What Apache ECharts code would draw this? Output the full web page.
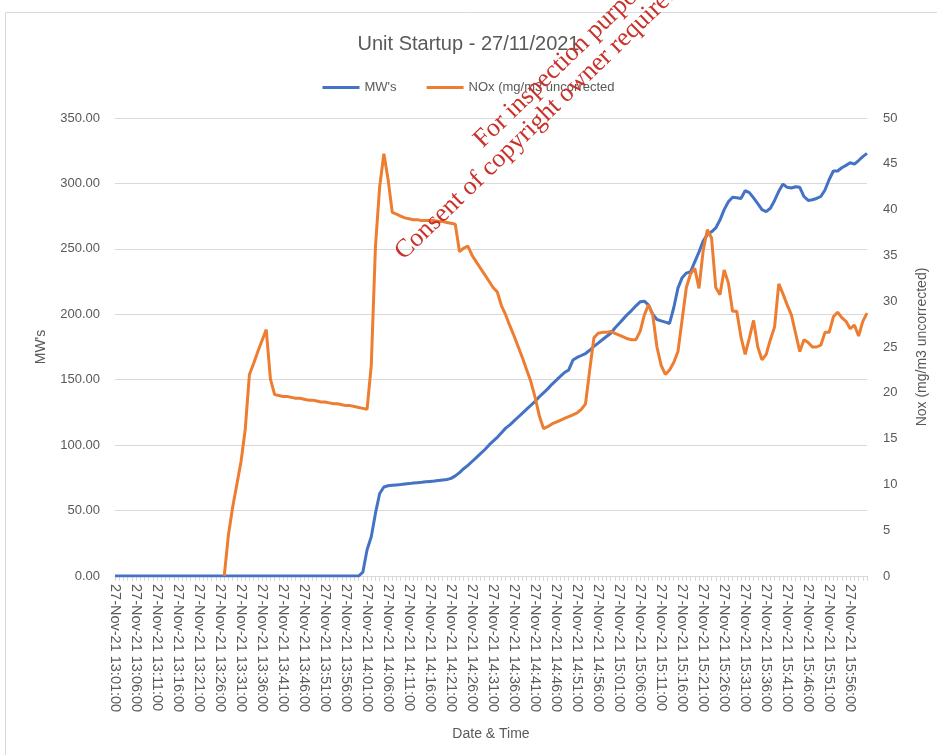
<!DOCTYPE html>
<html>
<head>
<meta charset="utf-8">
<script src="https://cdn.jsdelivr.net/npm/echarts@6/dist/echarts.min.js"></script>
<style>
  html, body { margin: 0; padding: 0; background: #fff; }
  #chart { width: 937px; height: 755px; }
</style>
</head>
<body>
<div id="chart"></div>
<script>
// one reading per minute, 27-Nov-21 13:01 .. 16:00
const startHour = 13, startMin = 1, pointCount = 180

// MW's (left axis)
const mw = [
  0, 0, 0, 0, 0, 0, 0, 0, 0, 0, 0, 0, 0, 0, 0, 0, 0, 0, 0, 0,
  0, 0, 0, 0, 0, 0, 0, 0, 0, 0, 0, 0, 0, 0, 0, 0, 0, 0, 0, 0,
  0, 0, 0, 0, 0, 0, 0, 0, 0, 0, 0, 0, 0, 0, 0, 0, 0, 0, 0, 3,
  20, 30, 48, 63, 68, 69, 69.3, 69.6, 69.9, 70.3, 70.6, 71, 71.3, 71.6, 72, 72.3, 72.6, 73, 73.4, 73.8,
  74.6, 76.5, 79, 82, 84.5, 87.5, 90.5, 93.5, 96.5, 100, 103, 106, 109.5, 113, 115.5, 118.5, 121.5, 124.5, 127.5, 130.5,
  133.5, 137, 140, 143, 146.5, 149.5, 152.5, 155.5, 157.5, 165, 167, 168.5, 170, 172.5, 175.5, 178, 180.5, 183, 185.5, 189.5,
  193, 196.5, 200, 203, 206.5, 209.5, 210, 207, 200, 196, 195, 194, 193, 205, 220, 228, 231.5, 232.5, 240, 247.5,
  256, 261, 263, 266, 272, 280, 286, 289.5, 289, 288.5, 294.5, 293, 289, 284.5, 280, 278.5, 281, 287, 294, 299.5,
  297, 296.5, 297.5, 297, 290, 287, 287.5, 288.5, 290, 295, 303, 309.5, 309.5, 312, 313.8, 315.8, 314.8, 317.5, 320.5, 323
]

// NOx mg/m3 uncorrected (right axis), no reading before 13:27
const nox = [
  null, null, null, null, null, null, null, null, null, null, null, null, null, null, null, null, null, null, null, null,
  null, null, null, null, null, null, 0, 4.5, 7.5, 10, 12.5, 16, 22, 23.2, 24.5, 25.7, 26.9, 21.5, 19.8, 19.7,
  19.6, 19.6, 19.5, 19.4, 19.4, 19.3, 19.2, 19.2, 19.1, 19, 19, 18.9, 18.8, 18.8, 18.7, 18.6, 18.6, 18.5, 18.4, 18.3,
  18.2, 23, 36, 42.5, 46.1, 43.3, 39.7, 39.5, 39.3, 39.1, 39, 38.9, 38.9, 38.8, 38.8, 38.8, 38.8, 38.7, 38.7, 38.6,
  38.5, 38.4, 35.4, 35.8, 36, 35, 34.3, 33.6, 32.9, 32.2, 31.5, 31, 29.5, 28.5, 27.3, 26.2, 25, 23.8, 22.5, 21.2,
  19.5, 17.5, 16.1, 16.3, 16.6, 16.8, 17, 17.2, 17.4, 17.6, 17.8, 18.2, 18.8, 22.5, 26, 26.5, 26.6, 26.6, 26.7, 26.5,
  26.3, 26.1, 25.9, 25.8, 25.8, 26.7, 28.5, 29.6, 28.5, 25, 23, 22, 22.5, 23.3, 24.5, 28, 31.5, 33, 33.6, 31.4,
  35.5, 37.8, 36.9, 31.5, 30.7, 33.4, 32, 28.9, 28.9, 26.1, 24.2, 26, 27.9, 25, 23.6, 24.2, 25.8, 27.2, 31.9, 30.8,
  29.6, 28.5, 26.5, 24.5, 25.8, 25.5, 25, 25, 25.2, 26.6, 26.6, 28.3, 28.8, 28.2, 27.8, 27, 27.4, 26.2, 27.8, 28.7
]

const mwTicks = [0, 50, 100, 150, 200, 250, 300, 350]
const noxTicks = [0, 5, 10, 15, 20, 25, 30, 35, 40, 45, 50]

const times = []
for (let i = 0; i < pointCount; i++) {
  let t = startHour * 60 + startMin + i
  let hh = Math.floor(t / 60), mm = t % 60
  times.push('27-Nov-21 ' + hh + ':' + (mm < 10 ? '0' + mm : mm) + ':00')
}

const grey = '#595959'
const font = 'Liberation Sans'

const chart = echarts.init(document.getElementById('chart'), null, { renderer: 'canvas' })

const option = {
  backgroundColor: '#ffffff',
  animation: false,
  color: ['#4472C4', '#ED7D31'],
  title: {
    text: 'Unit Startup - 27/11/2021',
    left: 'center',
    top: 29,
    textStyle: { fontFamily: font, fontSize: 20, fontWeight: 'normal', color: grey }
  },
  legend: {
    top: 76,
    left: 'center',
    itemGap: 30,
    itemWidth: 37,
    itemHeight: 3,
    icon: 'rect',
    textStyle: { fontFamily: font, fontSize: 13, color: grey }
  },
  grid: { left: 115, right: 69, top: 118, bottom: 179 },
  xAxis: {
    type: 'category',
    data: times,
    boundaryGap: false,
    name: 'Date & Time',
    nameLocation: 'middle',
    nameGap: 151,
    nameTextStyle: { fontFamily: font, fontSize: 14, color: grey },
    axisLine: { lineStyle: { color: '#d9d9d9' } },
    axisTick: { show: true, interval: 0, length: 5, lineStyle: { color: '#d9d9d9' } },
    axisLabel: {
      interval: 4,
      rotate: -90,
      margin: 8,
      fontFamily: font,
      fontSize: 14.5,
      color: grey
    },
    splitLine: { show: false }
  },
  yAxis: [{
    type: 'value',
    min: mwTicks[0],
    max: mwTicks[mwTicks.length - 1],
    interval: 50,
    name: "MW's",
    nameLocation: 'middle',
    nameGap: 67,
    nameRotate: 90,
    nameTextStyle: { fontFamily: font, fontSize: 14, color: grey },
    axisLine: { show: false },
    axisTick: { show: false },
    axisLabel: {
      margin: 15,
      fontFamily: font, fontSize: 13, color: grey,
      formatter: v => v.toFixed(2)
    },
    splitLine: { lineStyle: { color: '#d9d9d9', width: 1 } }
  }, {
    type: 'value',
    min: noxTicks[0],
    max: noxTicks[noxTicks.length - 1],
    interval: 5,
    name: 'Nox (mg/m3 uncorrected)',
    nameLocation: 'middle',
    nameGap: 48,
    nameRotate: 90,
    nameTextStyle: { fontFamily: font, fontSize: 14, color: grey },
    axisLine: { show: false },
    axisTick: { show: false },
    axisLabel: { margin: 16, fontFamily: font, fontSize: 13, color: grey },
    splitLine: { show: false }
  }],
  series: [{
    name: "MW's",
    type: 'line',
    yAxisIndex: 0,
    data: mw,
    showSymbol: false,
    lineStyle: { width: 3, color: '#4472C4' },
    z: 2
  }, {
    name: 'NOx (mg/m3 uncorrected',
    type: 'line',
    yAxisIndex: 1,
    data: nox,
    showSymbol: false,
    connectNulls: false,
    lineStyle: { width: 3, color: '#ED7D31' },
    z: 3
  }],
  graphic: [{
    type: 'rect',
    silent: true,
    shape: { x: 5.5, y: 12.5, width: 1200, height: 1200 },
    style: { fill: 'none', stroke: '#d9d9d9', lineWidth: 1 },
    z: -1
  }, {
    type: 'text',
    x: 487, y: 153,
    rotation: 0.768,
    silent: true,
    z: 100,
    style: {
      text: 'For inspection purposes only.',
      font: '26px "Liberation Serif"',
      fill: '#C8322A',
      textAlign: 'left',
      textVerticalAlign: 'bottom'
    }
  }, {
    type: 'text',
    x: 408, y: 265,
    rotation: 0.768,
    silent: true,
    z: 100,
    style: {
      text: 'Consent of copyright owner required for any other use.',
      font: '26px "Liberation Serif"',
      fill: '#C8322A',
      textAlign: 'left',
      textVerticalAlign: 'bottom'
    }
  }]
}

chart.setOption(option, true)
</script>
</body>
</html>
